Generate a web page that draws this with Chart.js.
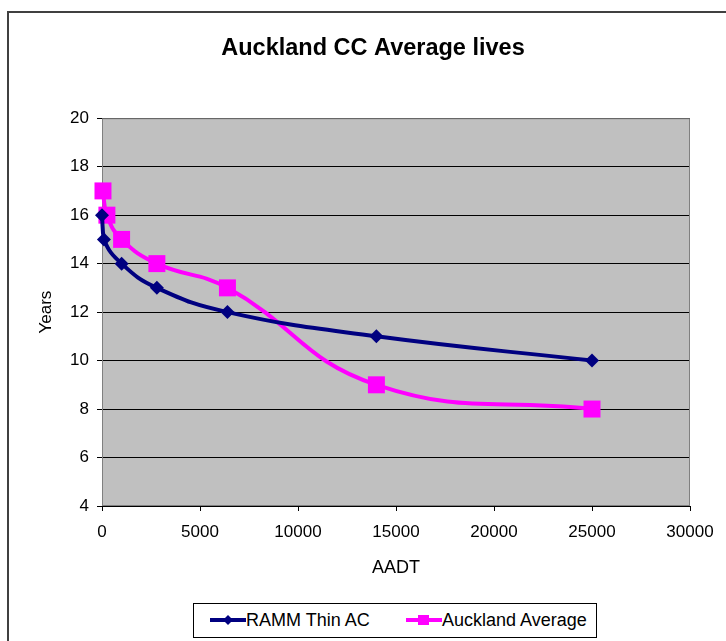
<!DOCTYPE html>
<html>
<head>
<meta charset="utf-8">
<script src="https://cdn.jsdelivr.net/npm/chart.js@4.4.1/dist/chart.umd.min.js"></script>
<style>
  body { margin: 0; background: #fff; font-family: "Liberation Sans", Arial, sans-serif; }
  #wrap { position: relative; width: 726px; height: 641px; }
  #legend {
    position: absolute; left: 193px; top: 603px; width: 404px; height: 35px;
    border: 1px solid #000; background: #fff; box-sizing: border-box;
    font-size: 18px; color: #000;
  }
  .item { position: absolute; top: 0; height: 33px; line-height: 33px; white-space: nowrap; }
  .item canvas { vertical-align: middle; margin-top: -3px; }
</style>
</head>
<body>
<div id="wrap">
  <canvas id="chart" width="726" height="641"></canvas>
  <div id="legend">
    <div class="item" style="left:16px"><canvas id="sym0" width="36" height="16"></canvas>RAMM Thin AC</div>
    <div class="item" style="left:212px"><canvas id="sym1" width="36" height="16"></canvas>Auckland Average</div>
  </div>
</div>
<script>
// AADT vs years
const rammAadt = [0, 100, 1000, 2800, 6400, 14000, 25000];
const rammYears = [16, 15, 14, 13, 12, 11, 10];
const aklAadt = [50, 250, 1000, 2800, 6400, 14000, 25000];
const aklYears = [17, 16, 15, 14, 13, 9, 8];

const seriesNames = ['RAMM Thin AC', 'Auckland Average'];
const seriesColors = ['#000080', '#ff00ff'];

function toPoints(xs, ys) {
  return xs.map((x, i) => ({ x: x, y: ys[i] }));
}

// plot background, plot border and the outer frame
const frame = {
  id: 'frame',
  afterLayout(chart) {
    // centre the title over the whole frame, as in the original
    if (chart.titleBlock) {
      chart.titleBlock.left = 56;
      chart.titleBlock.right = 690;
    }
  },
  beforeDraw(chart) {
    const ctx = chart.ctx, a = chart.chartArea;
    ctx.save();
    ctx.fillStyle = '#c0c0c0';
    ctx.fillRect(a.left, a.top, a.right - a.left, a.bottom - a.top);
    ctx.strokeStyle = '#404040';
    ctx.lineWidth = 2;
    ctx.beginPath();
    ctx.moveTo(8, 641);
    ctx.lineTo(8, 12);
    ctx.lineTo(726, 12);
    ctx.stroke();
    ctx.restore();
  },
  beforeDatasetsDraw(chart) {
    const ctx = chart.ctx, a = chart.chartArea;
    ctx.save();
    ctx.strokeStyle = '#808080';
    ctx.lineWidth = 1;
    ctx.strokeRect(a.left + 0.5, a.top + 0.5, a.right - a.left - 1, a.bottom - a.top - 1);
    ctx.restore();
  }
};

const ctx = document.getElementById('chart').getContext('2d');
new Chart(ctx, {
  type: 'scatter',
  data: {
    datasets: [
      {
        label: seriesNames[0],
        data: toPoints(rammAadt, rammYears),
        showLine: true,
        tension: 0.45,
        borderColor: seriesColors[0],
        backgroundColor: seriesColors[0],
        borderWidth: 4,
        pointStyle: 'rectRot',
        pointRadius: 7,
        pointBorderWidth: 0
      },
      {
        label: seriesNames[1],
        data: toPoints(aklAadt, aklYears),
        showLine: true,
        tension: 0.45,
        borderColor: seriesColors[1],
        backgroundColor: seriesColors[1],
        borderWidth: 4,
        pointStyle: 'rect',
        pointRadius: 12,
        pointBorderWidth: 0
      }
    ]
  },
  options: {
    responsive: false,
    animation: false,
    clip: false,
    layout: { padding: { left: 20, right: 36, top: 0, bottom: 62 } },
    plugins: {
      legend: { display: false },
      tooltip: { enabled: false },
      title: {
        display: true,
        text: 'Auckland CC Average lives',
        color: '#000',
        font: { family: '"Liberation Sans", Arial', size: 23.5, weight: 'bold' },
        padding: { top: 34, bottom: 56 }
      }
    },
    scales: {
      x: {
        type: 'linear',
        min: 0,
        max: 30000,
        afterFit(scale) { scale.height = 73; },
        ticks: {
          stepSize: 5000,
          color: '#000',
          padding: 11,
          maxRotation: 0,
          callback: (v) => String(v),
          font: { family: '"Liberation Sans", Arial', size: 17 }
        },
        grid: { drawOnChartArea: false, drawTicks: true, tickLength: 5, color: '#000' },
        border: { display: false },
        title: {
          display: true,
          text: 'AADT',
          color: '#000',
          font: { family: '"Liberation Sans", Arial', size: 18 },
          padding: { top: 4, bottom: 0 }
        }
      },
      y: {
        type: 'linear',
        min: 4,
        max: 20,
        afterFit(scale) { scale.width = 82; },
        ticks: {
          stepSize: 2,
          color: '#000',
          padding: 8,
          callback: (v) => String(v),
          font: { family: '"Liberation Sans", Arial', size: 17 }
        },
        grid: { drawTicks: true, tickLength: 5, color: '#000' },
        border: { display: false },
        title: {
          display: true,
          text: 'Years',
          color: '#000',
          font: { family: '"Liberation Sans", Arial', size: 17 },
          padding: { top: 16, bottom: 0 }
        }
      }
    }
  },
  plugins: [frame]
});

// legend symbols: short line with the series marker
function drawSymbol(id, color, square) {
  const c = document.getElementById(id).getContext('2d');
  c.strokeStyle = color;
  c.fillStyle = color;
  c.lineWidth = 4;
  c.beginPath();
  c.moveTo(0, 8);
  c.lineTo(36, 8);
  c.stroke();
  c.beginPath();
  if (square) {
    c.fillRect(12, 3, 11, 10);
  } else {
    c.moveTo(18, 3); c.lineTo(23, 8); c.lineTo(18, 13); c.lineTo(13, 8);
    c.closePath();
    c.fill();
  }
}
drawSymbol('sym0', seriesColors[0], false);
drawSymbol('sym1', seriesColors[1], true);
</script>
</body>
</html>
